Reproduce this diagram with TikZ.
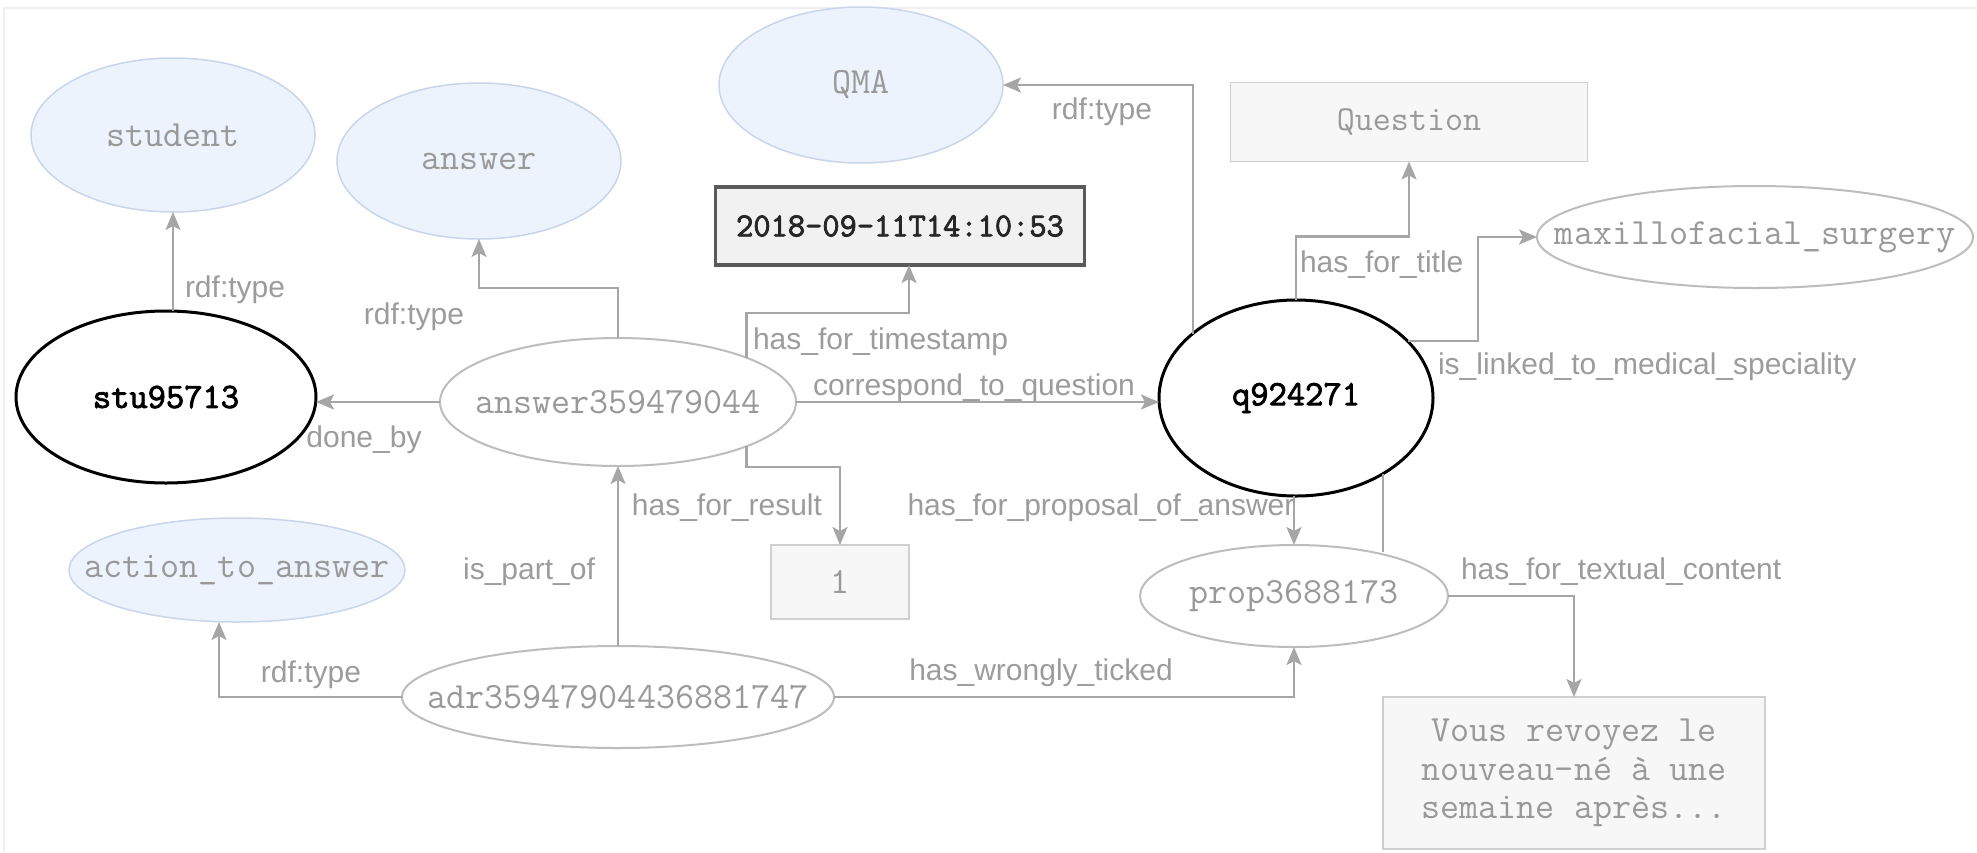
\documentclass[tikz,border=0pt]{standalone}
\usepackage{fontspec}
\setmainfont{Liberation Sans}
\newfontfamily\boldmono[FakeBold=2.4]{Latin Modern Mono}
\usetikzlibrary{shapes.geometric,arrows.meta,calc}

\definecolor{edgegrey}{HTML}{A6A6A6}
\definecolor{labelgrey}{HTML}{9C9C9C}
\definecolor{textgrey}{HTML}{999999}
\definecolor{classfill}{HTML}{EDF3FC}
\definecolor{classline}{HTML}{C8D5EA}
\definecolor{instline}{HTML}{BDBDBD}
\definecolor{boxfill}{HTML}{F7F7F7}
\definecolor{boxline}{HTML}{CFCFCF}
\definecolor{stampfill}{HTML}{F1F1F1}
\definecolor{stampline}{HTML}{5A5A5A}
\definecolor{framegrey}{HTML}{EFEFEF}

% text centred in a shape without widening the shape
\newcommand{\nodetext}[1]{\makebox[0pt][c]{#1}}

\tikzset{
  every node/.style={inner sep=0pt, outer sep=0pt},
  monotext/.style={font=\ttfamily\fontsize{37}{44}\selectfont},
  classnode/.style={ellipse, draw=classline, fill=classfill, line width=1.5pt, text=textgrey, monotext},
  instnode/.style={ellipse, draw=instline, fill=white, line width=2pt, text=textgrey, monotext},
  focusnode/.style={ellipse, draw=black, fill=white, line width=3pt, text=black,
    font=\boldmono\fontsize{35.5}{42}\selectfont},
  litbox/.style={rectangle, draw=boxline, fill=boxfill, line width=1.8pt, text=textgrey, monotext},
  stampbox/.style={rectangle, draw=stampline, fill=stampfill, line width=3.5pt, text=black!85,
    font=\boldmono\fontsize{33.5}{40}\selectfont},
  edge/.style={draw=edgegrey, line width=2.5pt},
  rel/.style={edge, -{Stealth[length=18pt,width=15pt,inset=4pt]}},
  lbl/.style={text=labelgrey, font=\fontsize{30}{36}\selectfont},
}

\begin{document}
\begin{tikzpicture}[x=1pt,y=-1pt]
\useasboundingbox (0,0) rectangle (1977,852);
\fill[white] (0,0) rectangle (1977,852);
\draw[framegrey, line width=1.5pt] (4,852) -- (4,8) -- (1977,8);

% class nodes
\node[classnode, minimum width=284pt, minimum height=154pt] (student) at (173,135) {\nodetext{student}};
\node[classnode, minimum width=284pt, minimum height=156pt] (answer) at (479,161) {\nodetext{answer}};
\node[classnode, minimum width=284pt, minimum height=156pt] (qma) at (861,85) {\nodetext{QMA}};
\node[classnode, minimum width=336pt, minimum height=104pt] (action) at (237,570) {\nodetext{action\_to\_answer}};

% resources
\node[focusnode, minimum width=300pt, minimum height=172pt] (stu) at (166,397) {\nodetext{stu95713}};
\node[instnode, minimum width=356pt, minimum height=128pt] (ans) at (618,402) {\nodetext{answer359479044}};
\node[focusnode, minimum width=274pt, minimum height=196pt] (q) at (1296,398) {\nodetext{q924271}};
\node[instnode, minimum width=432pt, minimum height=102pt] (adr) at (618,697) {\nodetext{adr35947904436881747}};
\node[instnode, minimum width=308pt, minimum height=102pt] (prop) at (1294,596) {\nodetext{prop3688173}};
\node[instnode, minimum width=436pt, minimum height=102pt] (maxi) at (1755,237) {\nodetext{maxillofacial\_surgery}};

% literals
\node[stampbox, minimum width=369pt, minimum height=78pt] (stamp) at (900,226) {2018-09-11T14:10:53};
\node[litbox, minimum width=357pt, minimum height=79pt, font=\ttfamily\fontsize{35}{42}\selectfont] (question) at (1409,122) {Question};
\node[litbox, minimum width=138pt, minimum height=74pt] (one) at (840,582) {1};
\node[litbox, minimum width=382pt, minimum height=152pt, align=center, font=\ttfamily\fontsize{37}{38.5}\selectfont]
  (content) at (1574,773) {Vous revoyez le\\nouveau-né à une\\semaine après...};

% relations
\draw[rel] (student.south |- stu.north) -- (student.south);
\draw[rel] (ans.north) |- ($(answer.south)+(0,49)$) -- (answer.south);
\draw[rel] (ans.west) -- (stu.east |- ans.west);
\draw[rel] (ans.19.7) |- ($(stamp.south)+(9,48)$) -- ($(stamp.south)+(9,0)$);
\draw[rel] (ans.east) -- (q.west |- ans.east);
\draw[rel] (ans.-19.7) |- ($(one.north)+(0,-78)$) -- (one.north);
\draw[rel] (adr.north) -- (ans.south);
\draw[rel] (adr.west) -| ($(action.south)+(-18,0)$);
\draw[rel] (adr.east) -| (prop.south);
\draw[rel] (q.148.4) |- (qma.east);
\draw[rel] (q.north) |- ($(question.south)+(0,75)$) -- (question.south);
\draw[rel] (q.27.8) -| ($(maxi.west)+(-59,0)$) -- (maxi.west);
\draw[rel] (q.south -| prop.north) -- (prop.north);
\draw[rel] (prop.east) -| (content.north);
\coordinate (stubend) at (1383,552);
\draw[edge] (q.-41.1) -- (q.-41.1 |- stubend);

% relation labels
\node[lbl, anchor=west] (l1) at (185,290) {rdf:type};
\node[lbl] (l2) at (414,317) {rdf:type};
\node[lbl] (l3) at (364,440) {done\_by};
\node[lbl, anchor=west] (l4) at (753,342) {has\_for\_timestamp};
\node[lbl] (l5) at (974,388) {correspond\_to\_question};
\node[lbl, anchor=east] (l6) at (822,508) {has\_for\_result};
\node[lbl] (l7) at (529,572) {is\_part\_of};
\node[lbl] (l8) at (311,675) {rdf:type};
\node[lbl] (l9) at (1041,673) {has\_wrongly\_ticked};
\node[lbl] (l10) at (1102,112) {rdf:type};
\node[lbl, anchor=west] (l11) at (1300,265) {has\_for\_title};
\node[lbl, anchor=west] (l12) at (1438,367) {is\_linked\_to\_medical\_speciality};
\node[lbl] (l13) at (1101,508) {has\_for\_proposal\_of\_answer};
\node[lbl, anchor=west] (l14) at (1461,572) {has\_for\_textual\_content};
\end{tikzpicture}
\end{document}
